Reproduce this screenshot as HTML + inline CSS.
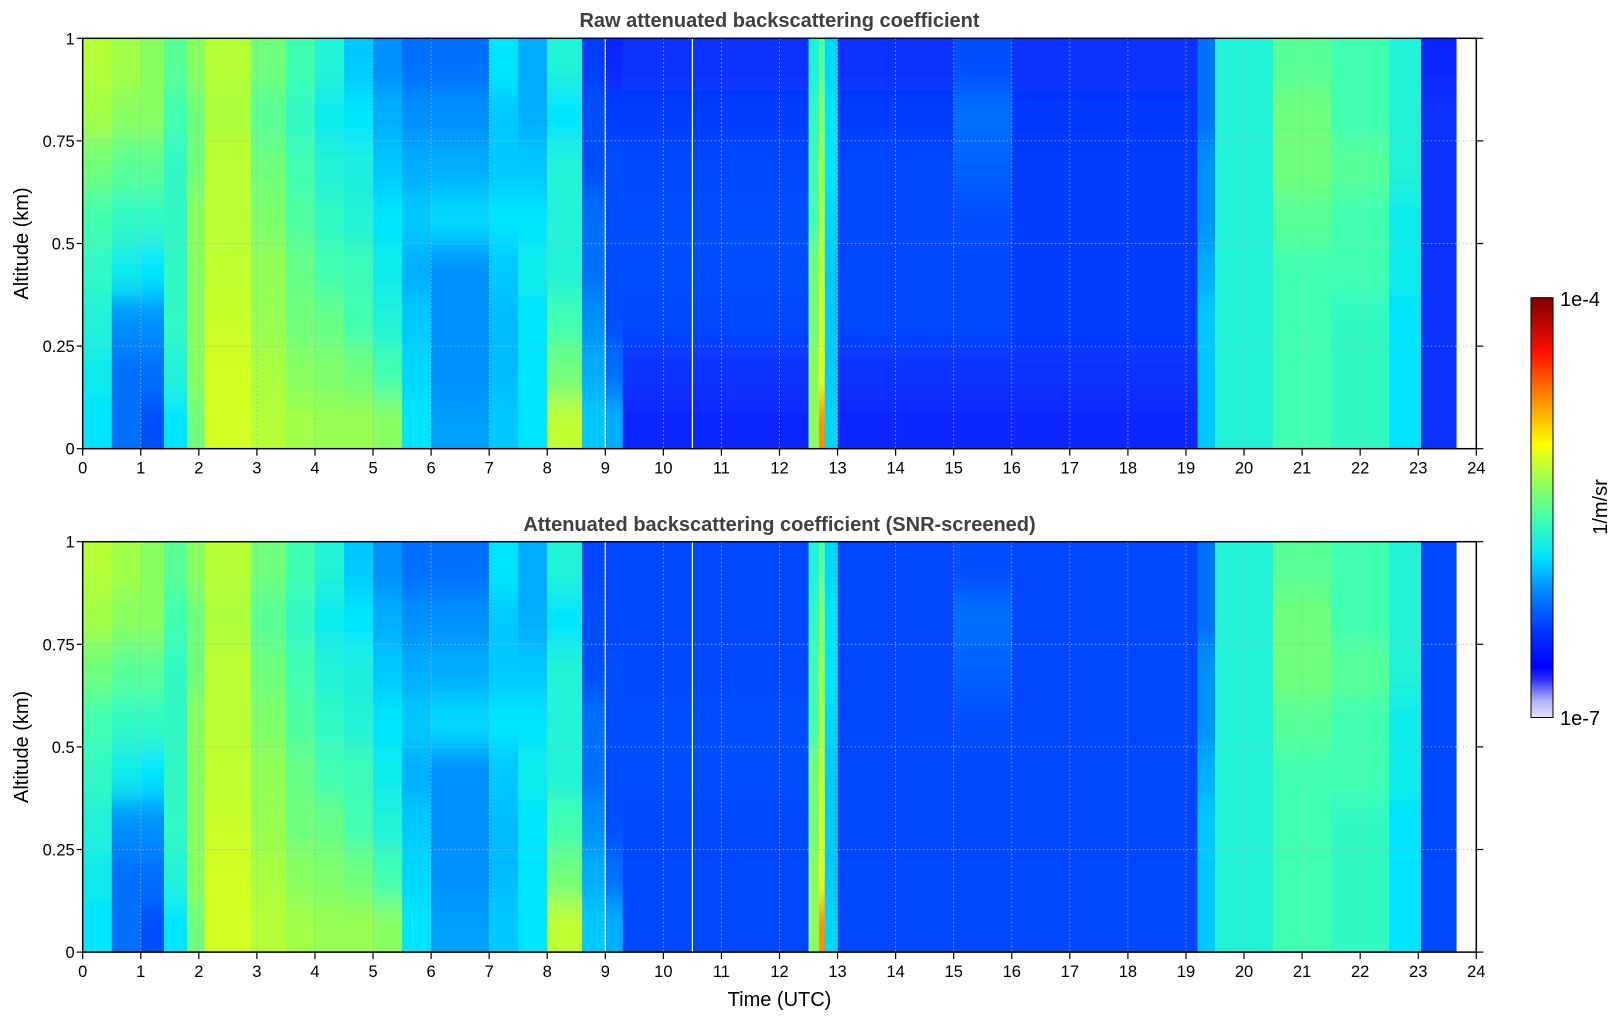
<!DOCTYPE html>
<html><head><meta charset="utf-8">
<style>
html,body{margin:0;padding:0;background:#fff;}
svg{display:block;font-family:"Liberation Sans","DejaVu Sans",sans-serif;}
</style></head>
<body>
<svg id="fig" width="1621" height="1020" viewBox="0 0 1621 1020" xmlns="http://www.w3.org/2000/svg">
<defs>
<filter id="vblur" x="-0.01" y="-0.2" width="1.02" height="1.4"><feGaussianBlur stdDeviation="0 14"/></filter>
<clipPath id="clipTop"><rect x="82.7" y="38.3" width="1393.6" height="410.4"/></clipPath>
<clipPath id="clipBot"><rect x="82.7" y="541.7" width="1393.6" height="410.4"/></clipPath>
<linearGradient id="cbar" x1="0" y1="1" x2="0" y2="0">
<stop offset="0" stop-color="#e4e4fa"/><stop offset="0.04" stop-color="#b0b0ff"/><stop offset="0.09" stop-color="#3030ff"/><stop offset="0.12" stop-color="#0000ff"/><stop offset="0.2" stop-color="#0030ff"/><stop offset="0.3" stop-color="#0088ff"/><stop offset="0.38" stop-color="#00e0ff"/><stop offset="0.47" stop-color="#40ffb0"/><stop offset="0.57" stop-color="#a0ff50"/><stop offset="0.65" stop-color="#ffff00"/><stop offset="0.77" stop-color="#ff8000"/><stop offset="0.87" stop-color="#ff1000"/><stop offset="1" stop-color="#800000"/>
</linearGradient>
</defs>
<g id="layer"></g>
</svg>
<script>
// ---- data: time bin edges (hours UTC) and log10 backscatter per bin (bottom→top, 8 altitude bins of 0.125 km)
const timeEdges = [0,0.5,1,1.4,1.8,2.1,2.9,3.5,4,4.5,5,5.5,6,7,7.5,8,8.6,9,9.3,12.5,12.68,12.78,13,15,16,19.2,19.5,20.5,21.5,22.5,23.05,23.65];
const rawValues = [
 [-5.5,-5.45,-5.4,-5.35,-5.3,-5.2,-5.1,-5.05],
 [-5.9,-5.9,-5.8,-5.45,-5.35,-5.25,-5.15,-5.1],
 [-6.0,-5.9,-5.8,-5.5,-5.35,-5.25,-5.15,-5.15],
 [-5.5,-5.4,-5.35,-5.35,-5.35,-5.35,-5.3,-5.25],
 [-5.2,-5.15,-5.15,-5.15,-5.15,-5.2,-5.2,-5.15],
 [-4.97,-4.97,-5.0,-5.02,-5.03,-5.03,-5.07,-5.05],
 [-5.05,-5.08,-5.12,-5.13,-5.17,-5.2,-5.25,-5.2],
 [-5.1,-5.15,-5.2,-5.22,-5.27,-5.3,-5.35,-5.3],
 [-5.12,-5.17,-5.22,-5.3,-5.35,-5.4,-5.45,-5.4],
 [-5.12,-5.2,-5.3,-5.32,-5.4,-5.42,-5.5,-5.6],
 [-5.15,-5.3,-5.4,-5.45,-5.5,-5.6,-5.7,-5.8],
 [-5.5,-5.55,-5.6,-5.7,-5.6,-5.7,-5.8,-5.9],
 [-5.75,-5.8,-5.8,-5.8,-5.55,-5.7,-5.8,-5.9],
 [-5.6,-5.65,-5.65,-5.6,-5.5,-5.6,-5.6,-5.5],
 [-5.5,-5.5,-5.5,-5.45,-5.5,-5.6,-5.7,-5.7],
 [-5.02,-5.2,-5.3,-5.4,-5.4,-5.4,-5.5,-5.4],
 [-5.6,-5.7,-5.8,-5.9,-5.9,-6.0,-6.0,-6.1],
 [-5.7,-5.9,-6.0,-6.0,-6.0,-6.0,-6.1,-6.2],
 [-6.2,-6.15,-6.05,-6.0,-6.0,-6.05,-6.1,-6.15],
 [-5.15,-5.15,-5.2,-5.2,-5.3,-5.3,-5.35,-5.4],
 [-4.6,-4.9,-4.95,-5.0,-5.05,-5.1,-5.15,-5.25],
 [-5.55,-5.6,-5.6,-5.6,-5.55,-5.5,-5.5,-5.55],
 [-6.2,-6.15,-6.05,-6.05,-6.05,-6.05,-6.1,-6.15],
 [-6.2,-6.15,-6.05,-6.05,-6.0,-5.95,-5.9,-6.0],
 [-6.2,-6.15,-6.1,-6.1,-6.1,-6.1,-6.12,-6.15],
 [-5.6,-5.6,-5.6,-5.7,-5.8,-5.8,-5.9,-5.9],
 [-5.4,-5.4,-5.4,-5.4,-5.4,-5.4,-5.4,-5.4],
 [-5.3,-5.3,-5.3,-5.3,-5.25,-5.2,-5.2,-5.25],
 [-5.35,-5.35,-5.35,-5.3,-5.3,-5.25,-5.3,-5.3],
 [-5.5,-5.5,-5.5,-5.45,-5.45,-5.4,-5.4,-5.4],
 [-6.15,-6.15,-6.15,-6.15,-6.15,-6.15,-6.15,-6.2]
];
const screenedValues = rawValues.map(c => c.map(v => v < -6.0 ? -6.05 : v));
const altEdges = [0,0.125,0.25,0.375,0.5,0.625,0.75,0.875,1];
const xTicks = [0,1,2,3,4,5,6,7,8,9,10,11,12,13,14,15,16,17,18,19,20,21,22,23,24];
const yTicks = [0,0.25,0.5,0.75,1];
const yTickLabels = ["0","0.25","0.5","0.75","1"];
const gapLines = [9.0,10.5];

const NS = "http://www.w3.org/2000/svg";
const X0 = 82.7, X1 = 1476.3;
const panels = [
 {top:38.3, bot:448.7, title:"Raw attenuated backscattering coefficient", ty:27, data:rawValues, clip:"clipTop", name:"raw-panel"},
 {top:541.7, bot:952.1, title:"Attenuated backscattering coefficient (SNR-screened)", ty:531, data:screenedValues, clip:"clipBot", name:"screened-panel"}
];
const stops = [[-7,[224,224,255]],[-6.8,[128,128,255]],[-6.6,[0,0,255]],[-6.2,[10,40,255]],[-6.0,[0,80,255]],[-5.75,[0,160,255]],[-5.5,[0,229,255]],[-5.3,[64,255,176]],[-5.1,[160,255,70]],[-4.95,[220,255,30]],[-4.8,[255,240,0]],[-4.6,[255,144,0]],[-4.4,[255,16,0]],[-4,[128,0,0]]];
function cmap(v){
  if(v<=stops[0][0]) return "rgb("+stops[0][1]+")";
  for(let i=1;i<stops.length;i++){
    if(v<=stops[i][0]){const a=stops[i-1],b=stops[i];const t=(v-a[0])/(b[0]-a[0]);
      return "rgb("+a[1].map((c,k)=>Math.round(c+(b[1][k]-c)*t)).join(",")+")";}
  }
  return "rgb("+stops[stops.length-1][1]+")";
}
const xs = t => X0 + (X1-X0)*t/24;
function el(tag, attrs, parent){const e=document.createElementNS(NS,tag);for(const k in attrs)e.setAttribute(k,attrs[k]);parent.appendChild(e);return e;}
const layer = document.getElementById("layer");

panels.forEach(p=>{
  const ys = a => p.bot - (p.bot-p.top)*a;
  const g = el("g",{}, layer);
  
  
  const clipG = el("g",{"clip-path":"url(#"+p.clip+")"}, g);
  const hm = el("g",{filter:"url(#vblur)"}, clipG);
  
  
  const nRows = altEdges.length-1;
  p.data.forEach((col,i)=>{
    col.forEach((v,j)=>{
      let y1 = ys(altEdges[j+1])-1, y2 = ys(altEdges[j])+1;
      if(j===0) y2 += 60;
      if(j===nRows-1) y1 -= 60;
      const r = el("rect",{x:xs(timeEdges[i]), y:y1, width:xs(timeEdges[i+1])-xs(timeEdges[i])+0.6, height:y2-y1, fill:cmap(v)}, hm);
      
      
    });
  });
  gapLines.forEach(t=>{
    const l = el("line",{x1:xs(t),x2:xs(t),y1:p.top,y2:p.bot,stroke:"#fff","stroke-width":1.2}, clipG);
    
    
  });
  xTicks.forEach(t=>{
    const l = el("line",{x1:xs(t),x2:xs(t),y1:p.top,y2:p.bot,stroke:"#b0b0b0","stroke-width":0.8,"stroke-dasharray":"1.5,2.5"}, g);
    
    
  });
  yTicks.forEach(a=>{
    const l = el("line",{x1:X0,x2:X1,y1:ys(a),y2:ys(a),stroke:"#b0b0b0","stroke-width":0.8,"stroke-dasharray":"1.5,2.5"}, g);
    
    
  });
  const fr = el("rect",{x:X0,y:p.top,width:X1-X0,height:p.bot-p.top,fill:"none",stroke:"#000","stroke-width":1.5}, g);
  
  
  xTicks.forEach(t=>{
    el("line",{x1:xs(t),x2:xs(t),y1:p.bot,y2:p.bot+7,stroke:"#000","stroke-width":1.2}, g);
    const tx = el("text",{x:xs(t),y:p.bot+25,"font-size":16.5,"text-anchor":"middle",fill:"#000"}, g);
    tx.textContent = t;
    
    
  });
  yTicks.forEach((a,i)=>{
    el("line",{x1:X0,x2:X0-6,y1:ys(a),y2:ys(a),stroke:"#000","stroke-width":1.2}, g);
    el("line",{x1:X1,x2:X1+7,y1:ys(a),y2:ys(a),stroke:"#000","stroke-width":1.2}, g);
    const tx = el("text",{x:X0-8,y:ys(a)+6,"font-size":16.5,"text-anchor":"end",fill:"#000"}, g);
    tx.textContent = yTickLabels[i];
    
    
  });
  const tt = el("text",{x:(X0+X1)/2,y:p.ty,"font-size":20,"font-weight":"bold","text-anchor":"middle",fill:"#404040"}, g);
  tt.textContent = p.title;
  
  
  const yl = el("text",{x:0,y:0,"font-size":20,"text-anchor":"middle",fill:"#000",transform:"translate(28,"+((p.top+p.bot)/2)+") rotate(-90)"}, g);
  yl.textContent = "Altitude (km)";
  
  
});
const xl = el("text",{x:(X0+X1)/2,y:1006,"font-size":20,"text-anchor":"middle",fill:"#000"}, layer);
xl.textContent = "Time (UTC)";


const cb = el("rect",{x:1531,y:297.7,width:22,height:419.8,fill:"url(#cbar)",stroke:"#000","stroke-width":1}, layer);


const cbt = el("text",{x:1560,y:306,"font-size":20,fill:"#000"}, layer);
cbt.textContent = "1e-4";


const cbb = el("text",{x:1560,y:725,"font-size":20,fill:"#000"}, layer);
cbb.textContent = "1e-7";


const cbl = el("text",{x:0,y:0,"font-size":20,"text-anchor":"middle",fill:"#000",transform:"translate(1607,507) rotate(-90)"}, layer);
cbl.textContent = "1/m/sr";


</script>
</body></html>
